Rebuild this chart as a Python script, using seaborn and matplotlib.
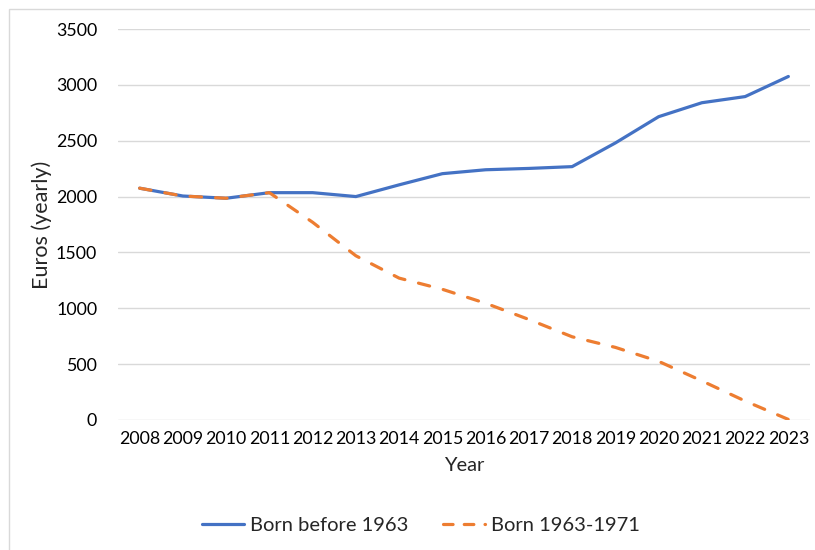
import matplotlib
matplotlib.use("Agg")
import matplotlib.pyplot as plt
import seaborn as sns
import pandas as pd
from matplotlib.patches import Rectangle
from matplotlib.lines import Line2D

years = [2008, 2009, 2010, 2011, 2012, 2013, 2014, 2015, 2016, 2017, 2018, 2019, 2020, 2021, 2022, 2023]
born_before_1963 = [2075, 2005, 1985, 2035, 2035, 2000, 2105, 2205, 2240, 2252, 2268, 2480, 2715, 2840, 2895, 3075]
born_1963_1971 = [2075, 2005, 1985, 2035, 1770, 1470, 1270, 1170, 1045, 900, 745, 650, 525, 350, 170, 5]
series_names = ["Born before 1963", "Born 1963-1971"]
y_ticks = [0, 500, 1000, 1500, 2000, 2500, 3000, 3500]

sns.set_theme(style="white")
plt.rcParams['font.family'] = ['Lato', 'DejaVu Sans']

W, H = 815, 550
fig = plt.figure(figsize=(W / 100, H / 100), dpi=100)
ax = fig.add_axes([118 / W, 1 - 420 / H, (810 - 118) / W, (420 - 29) / H])

df = pd.DataFrame({
    "idx": list(range(len(years))) * 2,
    "value": born_before_1963 + born_1963_1971,
    "series": [series_names[0]] * len(years) + [series_names[1]] * len(years),
})

blue = "#4472C4"
orange = "#ED7D31"
sns.lineplot(data=df[df.series == series_names[0]], x="idx", y="value", ax=ax,
             color=blue, linewidth=2.3, legend=False, zorder=3)
sns.lineplot(data=df[df.series == series_names[1]], x="idx", y="value", ax=ax,
             color=orange, linewidth=2.3, legend=False, zorder=4)
ax.lines[1].set_linestyle((0, (3.6, 4.4)))
ax.lines[1].set_dash_capstyle('round')
ax.lines[0].set_solid_capstyle('round')

ax.set_xlim(-0.5, len(years) - 0.5)
ax.set_ylim(0, 3500)
ax.set_yticks(y_ticks)
ax.set_yticklabels([str(v) for v in y_ticks])
ax.set_xticks(range(len(years)))
ax.set_xticklabels([str(y) for y in years])
ax.tick_params(axis='both', length=0, labelsize=12.8, colors="#000000")
ax.tick_params(axis='x', pad=8)
ax.tick_params(axis='y', pad=15)
ax.grid(axis='y', color="#D9D9D9", linewidth=1.0)
ax.set_axisbelow(True)
for s in ax.spines.values():
    s.set_visible(False)

ax.set_xlabel("Year", fontsize=14.5, labelpad=7)
ax.set_ylabel("Euros (yearly)", fontsize=15.5, labelpad=3)

handles = [Line2D([], [], color=blue, linewidth=2.3),
           Line2D([], [], color=orange, linewidth=2.3, linestyle=(0, (3.0, 3.5)), dash_capstyle='round')]
fig.legend(handles, series_names, loc="center", bbox_to_anchor=(421 / W, 1 - 525 / H),
           ncol=2, frameon=False, fontsize=14.5, handlelength=2.1, columnspacing=1.7, handletextpad=0.3)

fig.patches.append(Rectangle((8.5 / W, -0.1), 2.0, 1 - 9 / H + 0.1, transform=fig.transFigure,
                             fill=False, edgecolor="#D9D9D9", linewidth=1.0, zorder=0))

fig.savefig("out.png", dpi=100, facecolor="white")
